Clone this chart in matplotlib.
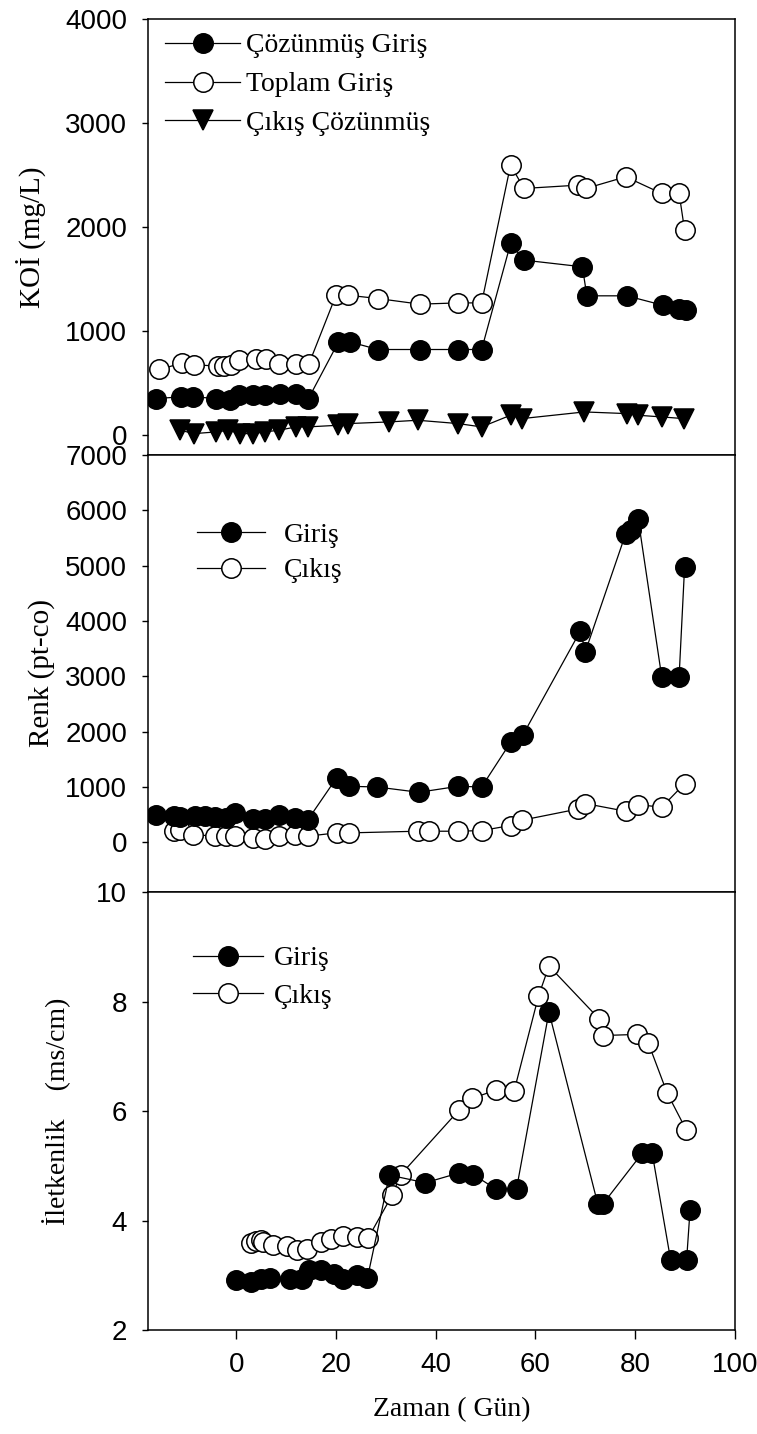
import matplotlib
matplotlib.use('Agg')
import matplotlib.pyplot as plt

# KOİ panel (top)
koi_cozunmus_x = [-16.0, -11.0, -8.6, -4.0, -1.3, 0.5, 3.4, 5.7, 8.7, 11.9, 14.4, 20.5, 22.8,
                  28.4, 36.8, 44.5, 49.2, 55.0, 57.7, 69.4, 70.3, 78.3, 85.5, 88.8, 90.2]
koi_cozunmus_y = [353, 369, 369, 353, 337, 385, 385, 385, 401, 401, 345, 897, 897,
                  824, 824, 824, 824, 1843, 1683, 1619, 1340, 1340, 1250, 1218, 1208]
koi_toplam_x = [-15.4, -10.8, -8.4, -3.7, -2.4, -1.1, 0.6, 3.9, 5.9, 8.6, 12.0, 14.6, 20.0, 22.4,
                28.4, 36.8, 44.5, 49.2, 55.0, 57.7, 68.6, 70.1, 78.1, 85.3, 88.8, 89.9]
koi_toplam_y = [632, 695, 679, 663, 663, 679, 721, 737, 728, 689, 689, 689, 1346, 1346,
                1314, 1260, 1272, 1272, 2596, 2372, 2404, 2372, 2484, 2324, 2324, 1971]
koi_cikis_x = [-11.3, -8.4, -4.0, -1.6, 0.7, 3.4, 5.7, 8.5, 12.0, 14.3, 20.5, 22.4,
               30.6, 36.4, 44.5, 49.2, 55.0, 57.3, 69.8, 78.3, 80.6, 85.3, 89.7]
koi_cikis_y = [48, 16, 32, 48, 16, 16, 32, 48, 80, 80, 96, 112,
               128, 144, 112, 80, 192, 160, 224, 208, 192, 176, 160]

# Renk panel (middle)
renk_giris_x = [-16.1, -12.5, -11.3, -8.2, -6.3, -4.3, -2.0, -0.2, 3.4, 5.7, 8.5, 11.8, 14.3,
                20.1, 22.7, 28.2, 36.6, 44.5, 49.2, 55.0, 57.5, 69.0, 70.0, 78.1, 79.1, 80.6,
                85.3, 88.8, 89.9]
renk_giris_y = [499, 469, 457, 481, 469, 457, 439, 529, 421, 421, 499, 439, 397,
                1160, 1010, 998, 902, 1010, 998, 1804, 1942, 3818, 3445, 5580, 5640, 5839,
                2995, 2995, 4979]
renk_cikis_x = [-12.5, -11.3, -8.6, -4.3, -2.0, -0.2, 3.4, 5.7, 8.5, 11.8, 14.3, 20.1, 22.7,
                36.4, 38.7, 44.5, 49.2, 55.0, 57.3, 68.6, 70.0, 78.1, 80.6, 85.3, 89.9]
renk_cikis_y = [198, 216, 138, 108, 108, 108, 78, 60, 108, 138, 108, 168, 168,
                198, 198, 198, 210, 301, 397, 601, 698, 559, 680, 631, 1058]

# İletkenlik panel (bottom)
ilet_giris_x = [0, 2.9, 4.9, 6.8, 10.7, 13.1, 14.6, 17.0, 19.5, 21.4, 24.3, 26.3,
                30.7, 37.9, 44.7, 47.5, 52.0, 56.2, 62.7, 72.5, 73.5, 81.4, 83.4, 87.1, 90.3, 91.0]
ilet_giris_y = [2.92, 2.87, 2.93, 2.95, 2.93, 2.93, 3.10, 3.10, 3.03, 2.93, 3.0, 2.95,
                4.83, 4.69, 4.87, 4.84, 4.58, 4.58, 7.81, 4.30, 4.30, 5.23, 5.23, 3.28, 3.28, 4.20]
ilet_cikis_x = [2.9, 3.9, 4.9, 5.4, 7.3, 10.2, 12.2, 14.1, 17.0, 19.0, 21.4, 24.3, 26.5,
                31.3, 33.0, 44.7, 47.2, 52.0, 55.7, 60.6, 62.7, 72.7, 73.5, 80.4, 82.6, 86.4, 90.2]
ilet_cikis_y = [3.59, 3.62, 3.65, 3.61, 3.55, 3.53, 3.47, 3.48, 3.61, 3.67, 3.71, 3.70, 3.69,
                4.47, 4.84, 6.02, 6.23, 6.38, 6.36, 8.10, 8.65, 7.69, 7.38, 7.40, 7.25, 6.33, 5.66]

serif = 'Liberation Serif'
sans = 'Liberation Sans'
fs = 20
ms = 14

fig = plt.figure(figsize=(7.57, 14.34), dpi=100)
left, width = 0.1955, 0.7754
ax1 = fig.add_axes([left, 0.6827, width, 0.3040])
ax2 = fig.add_axes([left, 0.3780, width, 0.3047])
ax3 = fig.add_axes([left, 0.0725, width, 0.3054])

line_kw = dict(color='black', lw=0.9, markeredgecolor='black', markeredgewidth=1.1, markersize=ms)

# top
ax1.plot(koi_cozunmus_x, koi_cozunmus_y, marker='o', markerfacecolor='black',
         label='Çözünmüş Giriş', zorder=3, **line_kw)
ax1.plot(koi_toplam_x, koi_toplam_y, marker='o', markerfacecolor='white',
         label='Toplam Giriş', zorder=2, **line_kw)
ax1.plot(koi_cikis_x, koi_cikis_y, marker='v', markerfacecolor='black',
         label='Çıkış Çözünmüş', zorder=3, **line_kw)
ax1.set_ylim(-190, 4000)
ax1.set_yticks([0, 1000, 2000, 3000, 4000])
ax1.set_ylabel('KOİ (mg/L)', fontfamily=serif, fontsize=21)
ax1.yaxis.set_label_coords(-0.173, 0.5)
ax1.legend(loc='upper left', bbox_to_anchor=(0.029, 0.968), frameon=False,
           prop={'family': serif, 'size': fs}, handlelength=2.7, handletextpad=0.2,
           labelspacing=0.48, borderpad=0, borderaxespad=0)

# middle
ax2.plot(renk_cikis_x, renk_cikis_y, marker='o', markerfacecolor='white',
         label='Çıkış', zorder=2, **line_kw)
ax2.plot(renk_giris_x, renk_giris_y, marker='o', markerfacecolor='black',
         label='Giriş', zorder=3, **line_kw)
ax2.set_ylim(-900, 7000)
ax2.set_yticks(range(0, 7001, 1000))
ax2.set_ylabel('Renk (pt-co)', fontfamily=serif, fontsize=21)
ax2.yaxis.set_label_coords(-0.158, 0.5)
h, l = ax2.get_legend_handles_labels()
ax2.legend(h[::-1], l[::-1], loc='upper left', bbox_to_anchor=(0.083, 0.846), frameon=False,
           prop={'family': serif, 'size': fs}, handlelength=2.45, handletextpad=0.68,
           labelspacing=0.37, borderpad=0, borderaxespad=0)

# bottom
ax3.plot(ilet_cikis_x, ilet_cikis_y, marker='o', markerfacecolor='white',
         label='Çıkış', zorder=2, **line_kw)
ax3.plot(ilet_giris_x, ilet_giris_y, marker='o', markerfacecolor='black',
         label='Giriş', zorder=3, **line_kw)
ax3.set_ylim(2, 10)
ax3.set_yticks([2, 4, 6, 8, 10])
ax3.set_ylabel('İletkenlik    (ms/cm)', fontfamily=serif, fontsize=fs)
ax3.yaxis.set_label_coords(-0.131, 0.5)
h, l = ax3.get_legend_handles_labels()
ax3.legend(h[::-1], l[::-1], loc='upper left', bbox_to_anchor=(0.077, 0.877), frameon=False,
           prop={'family': serif, 'size': fs}, handlelength=2.5, handletextpad=0.4,
           labelspacing=0.44, borderpad=0, borderaxespad=0)
ax3.set_xticks([0, 20, 40, 60, 80, 100])
ax3.set_xlabel('Zaman ( Gün)', fontfamily=serif, fontsize=fs)
ax3.xaxis.set_label_coords(0.518, -0.153)
ax3.tick_params(axis='x', direction='out', length=6.5, width=1, pad=9,
                labelsize=fs, labelfontfamily=sans)

for ax in (ax1, ax2, ax3):
    ax.set_xlim(-17.7, 100)
    for s in ax.spines.values():
        s.set_linewidth(1.1)
    ax.tick_params(axis='y', direction='out', length=4, width=1, pad=11,
                   labelsize=fs, labelfontfamily=sans)
    ax.tick_params(axis='y', right=False)

for ax in (ax1, ax2):
    ax.tick_params(axis='x', bottom=False, labelbottom=False)

fig.savefig('out.png', dpi=100)
